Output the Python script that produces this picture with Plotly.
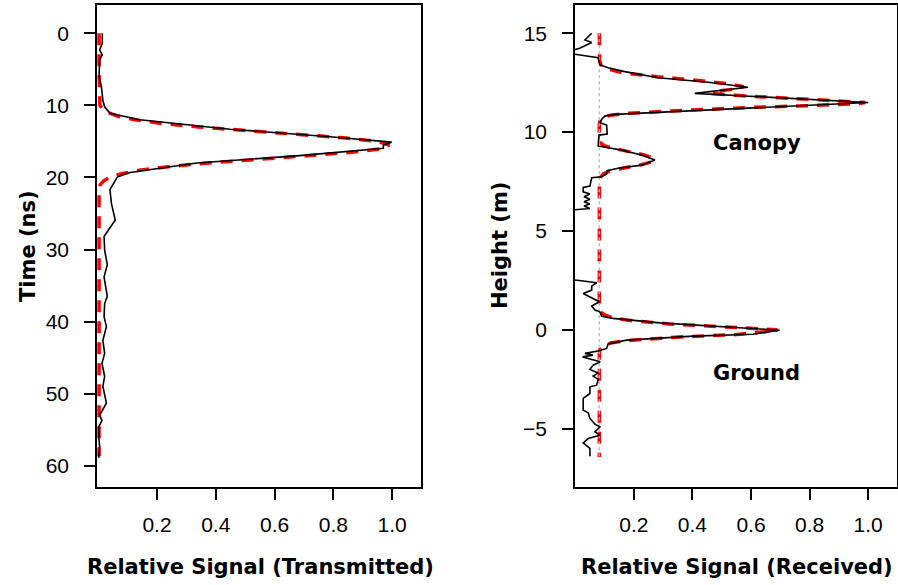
import plotly.graph_objects as go

# ---------------- Left panel: transmitted pulse ----------------
tx_time = [0, 1.4, 2.3, 3.0, 3.7, 6.0, 7.4, 9.3, 10.2, 11.1, 12.0, 13.3, 14.35, 15.1, 15.5, 15.96,
           17.0, 18.0, 19.3, 19.95, 21.7, 23.6, 25.9, 27.5, 28.2, 30.1, 32.1, 33.8, 35.6, 36.5, 37.5,
           39.3, 40.7, 42.6, 44.4, 45.8, 47.6, 49.0, 51.3, 53.0, 53.7, 54.6, 56.0, 57.4, 58.9]
tx_signal = [0.014, 0.014, 0.005, 0.014, 0.005, 0.003, 0.011, 0.016, 0.022, 0.040, 0.142, 0.448, 0.788,
             0.998, 0.970, 0.970, 0.675, 0.335, 0.108, 0.065, 0.040, 0.045, 0.058, 0.033, 0.020, 0.022,
             0.031, 0.020, 0.026, 0.031, 0.022, 0.020, 0.028, 0.016, 0.022, 0.013, 0.022, 0.016, 0.028,
             0.005, 0.013, 0.002, 0.002, 0.005, 0.002]

tx_fit_time = [0, 5, 10, 10.5, 11, 11.5, 12, 12.5, 13, 13.5, 14, 14.5, 15, 15.5, 16, 16.5, 17, 17.5,
               18, 18.5, 19, 19.5, 20, 20.5, 21, 22, 30, 40, 50, 58.7]
tx_fit = [0.003, 0.003, 0.006, 0.015, 0.033, 0.067, 0.125, 0.215, 0.342, 0.50, 0.673, 0.834, 0.951,
          0.99, 0.967, 0.862, 0.707, 0.534, 0.372, 0.238, 0.140, 0.076, 0.038, 0.018, 0.007, 0.003,
          0.003, 0.003, 0.003, 0.003]

# ---------------- Right panel: received waveform ----------------
rx_height = [15.0, 14.66, 14.53, 14.24, 14.1, 13.95, 13.77, 13.6, 13.4, 13.26, 13.06, 12.75, 12.52,
             12.27, 11.96, 11.5, 11.29, 11.07, 10.9, 10.81, 10.65, 10.48, 10.36, 9.9, 9.85, 9.3, 9.09,
             8.84, 8.59, 8.33, 8.17, 8.05, 7.88, 7.74, 7.69, 7.27, 7.2, 6.98, 6.87, 6.73, 6.6, 6.48,
             6.36, 6.26, 6.14, 6.06, 5.0, 4.0, 3.0, 2.55, 2.52, 2.38, 2.21, 2.01, 1.84, 1.42, 1.2, 1.0,
             0.91, 0.69, 0.58, 0.35, 0.15, -0.02, -0.22, -0.32, -0.52, -0.72, -0.94, -1.06, -1.19,
             -1.28, -1.37, -1.62, -1.79, -2.0, -2.18, -2.34, -2.51, -2.8, -2.88, -3.22, -3.47, -4.06,
             -4.2, -4.48, -4.77, -4.91, -5.16, -5.33, -5.5, -5.72, -6.0, -6.4]
rx_signal = [0.056, 0.033, 0.056, 0.015, -0.02, -0.005, 0.078, 0.082, 0.084, 0.112, 0.169, 0.283,
             0.454, 0.59, 0.408, 1.0, 0.681, 0.34, 0.135, 0.101, 0.09, 0.084, 0.107, 0.109, 0.081,
             0.078, 0.158, 0.226, 0.272, 0.226, 0.146, 0.109, 0.107, 0.09, 0.056, 0.05, 0.027, 0.027,
             0.05, 0.03, 0.05, 0.03, 0.05, 0.03, 0.05, -0.01, -0.02, -0.02, -0.02, -0.01, 0.0, 0.073,
             0.056, 0.056, 0.027, 0.082, 0.056, 0.067, 0.084, 0.09, 0.129, 0.289, 0.516, 0.698, 0.607,
             0.402, 0.175, 0.112, 0.107, 0.082, 0.033, 0.06, 0.025, 0.085, 0.061, 0.05, 0.078, 0.061,
             0.078, 0.073, 0.05, 0.05, 0.027, 0.027, 0.044, 0.05, 0.067, 0.084, 0.067, 0.084, 0.044,
             0.027, 0.05, 0.05]

rx_fit_height = [15.0, 14.0, 13.6, 13.4, 13.2, 13.0, 12.8, 12.6, 12.45, 12.3, 12.15, 12.05, 11.95,
                 11.85, 11.75, 11.65, 11.55, 11.5, 11.45, 11.35, 11.25, 11.15, 11.05, 10.95, 10.85,
                 10.75, 10.6, 10.4, 9.6, 9.45, 9.3, 9.15, 9.0, 8.85, 8.7, 8.6, 8.5, 8.35, 8.2, 8.05,
                 7.9, 7.7, 7.5, 1.2, 0.9, 0.75, 0.6, 0.45, 0.3, 0.15, 0.05, 0.0, -0.05, -0.15, -0.25,
                 -0.35, -0.45, -0.55, -0.65, -0.8, -1.0, -1.2, -6.43]
rx_fit = [0.082, 0.082, 0.083, 0.088, 0.11, 0.16, 0.28, 0.43, 0.52, 0.575, 0.53, 0.47, 0.47, 0.56,
          0.68, 0.82, 0.96, 0.99, 0.97, 0.82, 0.6, 0.43, 0.3, 0.18, 0.12, 0.095, 0.085, 0.082, 0.082,
          0.086, 0.10, 0.14, 0.19, 0.235, 0.262, 0.27, 0.262, 0.225, 0.17, 0.12, 0.097, 0.085, 0.082,
          0.082, 0.086, 0.10, 0.13, 0.2, 0.32, 0.49, 0.63, 0.69, 0.68, 0.60, 0.54, 0.37, 0.26, 0.17,
          0.125, 0.095, 0.084, 0.082, 0.082]

noise_level = 0.082
noise_span = [15.0, -6.43]

x_ticks = [0.2, 0.4, 0.6, 0.8, 1.0]
time_ticks = [0, 10, 20, 30, 40, 50, 60]
height_ticks = [-5, 0, 5, 10, 15]

TICK_FONT = "Liberation Sans, Arial, sans-serif"
LABEL_FONT = "DejaVu Sans, Liberation Sans, sans-serif"
W, H = 898, 585


def fx(px):
    return px / W


def fy(py):
    return 1 - py / H


fig = go.Figure()

fit_line = dict(color="#ff0000", width=3.5, dash="12px,9px")
sig_line = dict(color="black", width=1.6)

fig.add_trace(go.Scatter(x=tx_fit, y=tx_fit_time, mode="lines", line=fit_line,
                         xaxis="x", yaxis="y", showlegend=False))
fig.add_trace(go.Scatter(x=tx_signal, y=tx_time, mode="lines", line=sig_line,
                         xaxis="x", yaxis="y", showlegend=False))

fig.add_trace(go.Scatter(x=rx_fit, y=rx_fit_height, mode="lines", line=fit_line,
                         xaxis="x2", yaxis="y2", showlegend=False))
fig.add_trace(go.Scatter(x=[noise_level, noise_level], y=noise_span, mode="lines",
                         line=dict(color="#bdbdbd", width=1.5, dash="dot"),
                         xaxis="x2", yaxis="y2", showlegend=False))
fig.add_trace(go.Scatter(x=rx_signal, y=rx_height, mode="lines", line=sig_line,
                         xaxis="x2", yaxis="y2", showlegend=False))

axis_common = dict(showline=True, mirror=True, linecolor="black", linewidth=1.5,
                   ticks="outside", ticklen=11, tickwidth=1.5, tickcolor="black",
                   showgrid=False, zeroline=False,
                   tickfont=dict(family=TICK_FONT, size=21, color="black"))

fig.update_layout(
    width=W, height=H,
    margin=dict(l=0, r=0, t=0, b=0),
    plot_bgcolor="white", paper_bgcolor="white",
    xaxis=dict(domain=[fx(97), fx(421)], range=[-0.004, 1.098], anchor="y",
               tickvals=x_ticks, tickformat=".1f", ticklabelstandoff=7, **axis_common),
    yaxis=dict(domain=[fy(487), fy(5)], range=[62.95, -3.93], anchor="x",
               tickvals=time_ticks, ticklabelstandoff=11, **axis_common),
    xaxis2=dict(domain=[fx(575), fx(896.5)], range=[-0.001, 1.097], anchor="y2",
                tickvals=x_ticks, tickformat=".1f", ticklabelstandoff=7, **axis_common),
    yaxis2=dict(domain=[fy(487), fy(5)], range=[-7.95, 16.43], anchor="x2",
                tickvals=height_ticks, ticklabelstandoff=11, **axis_common),
)

title_font = dict(family=LABEL_FONT, size=21, color="black", weight="bold")
ann = [
    dict(text="Relative Signal (Transmitted)", x=fx(260), y=fy(567), xref="paper", yref="paper",
         showarrow=False, font=title_font, xanchor="center", yanchor="middle"),
    dict(text="Relative Signal (Received)", x=fx(737), y=fy(567), xref="paper", yref="paper",
         showarrow=False, font=title_font, xanchor="center", yanchor="middle"),
    dict(text="Time (ns)", x=fx(28), y=fy(246), xref="paper", yref="paper", textangle=-90,
         showarrow=False, font=title_font, xanchor="center", yanchor="middle"),
    dict(text="Height (m)", x=fx(500), y=fy(246), xref="paper", yref="paper", textangle=-90,
         showarrow=False, font=title_font, xanchor="center", yanchor="middle"),
    dict(text="Canopy", x=0.622, y=9.43, xref="x2", yref="y2", showarrow=False,
         font=title_font, xanchor="center", yanchor="middle"),
    dict(text="Ground", x=0.619, y=-2.18, xref="x2", yref="y2", showarrow=False,
         font=title_font, xanchor="center", yanchor="middle"),
]
fig.update_layout(annotations=ann)

# remove the default 8px page margin so the figure sits at the window's corner
fig.write_html("out.html", config={"displayModeBar": False},
               post_script="document.body.style.margin='0';document.body.style.overflow='hidden';")
